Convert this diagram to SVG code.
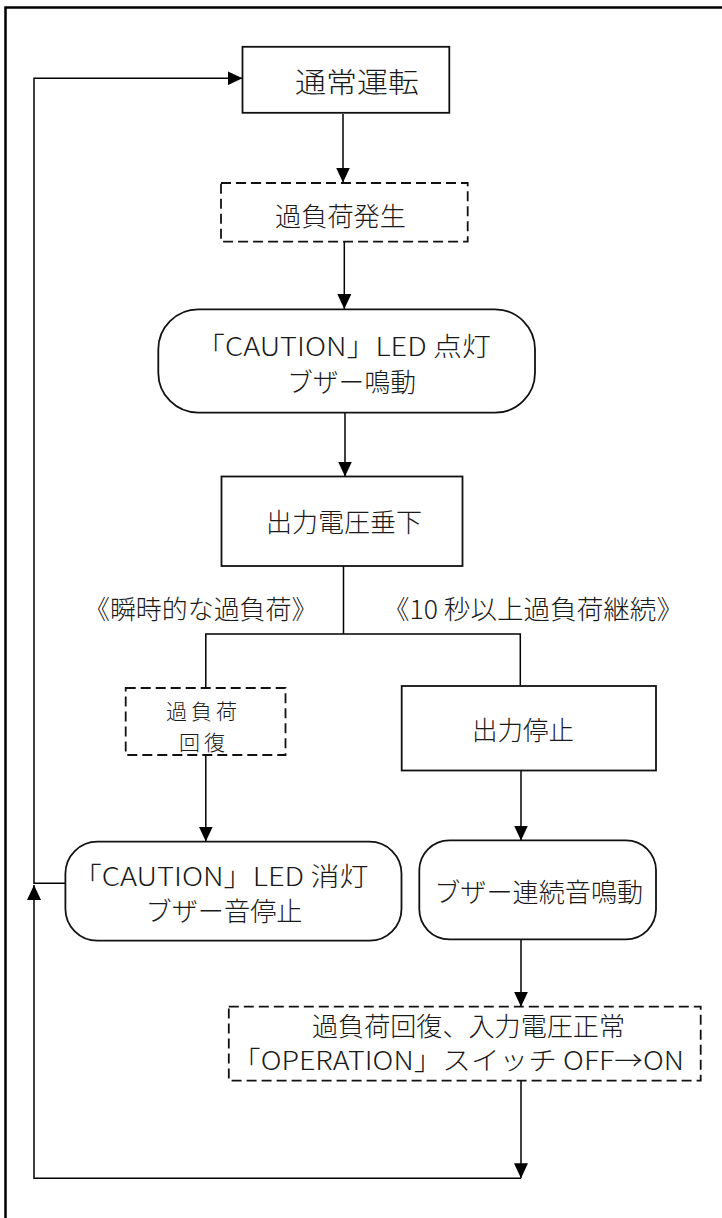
<svg xmlns="http://www.w3.org/2000/svg" width="722" height="1218" viewBox="0 0 722 1218">
<defs>
<marker id="arr" viewBox="0 0 15 14" refX="15" refY="7" markerWidth="15" markerHeight="14" markerUnits="userSpaceOnUse" orient="auto"><path d="M0,0 L15,7 L0,14 z" fill="#000"/></marker>
<style>
.box{fill:#fff;stroke:#111;stroke-width:1.8}
.dash{fill:#fff;stroke:#111;stroke-width:1.8;stroke-dasharray:10 5}
.ln{fill:none;stroke:#000;stroke-width:1.5}
.ar{fill:none;stroke:#000;stroke-width:1.5;marker-end:url(#arr)}
text{font-family:"Noto Sans CJK JP","Liberation Sans",sans-serif;font-size:26px;font-weight:300;fill:#1a1a1a;text-anchor:middle}
.sm{font-size:21px;letter-spacing:4px}
</style>
</defs>
<rect width="722" height="1218" fill="#fff"/>
<path d="M5.5,1220 V7.5 H724" fill="none" stroke="#000" stroke-width="2.5"/>
<g id="connectors">
<path class="ar" d="M343,114 V182.5"/>
<path class="ar" d="M344.3,241.7 V309"/>
<path class="ar" d="M345,412.7 V476.5"/>
<path class="ln" d="M343.5,566 V634 M205.8,688 V634 H520.3 V686"/>
<path class="ar" d="M205.8,755 V841.5"/>
<path class="ar" d="M521,770 V840.5"/>
<path class="ar" d="M521,939.3 V1006.7"/>
<path class="ar" d="M521,1081 V1178.3"/>
<path class="ar" d="M521,1178.3 H34 V885"/>
<path class="ar" d="M65.4,883.3 H34 V78.3 H242.5"/>
</g>
<g id="n1"><rect class="box" x="242.5" y="46.8" width="206.8" height="66"/><text x="357" y="93.3" style="font-size:28px" textLength="124" lengthAdjust="spacingAndGlyphs">通常運転</text></g>
<g id="n2"><rect class="dash" x="221" y="183" width="246.7" height="58.7"/><text x="340.5" y="225.5" textLength="131" lengthAdjust="spacingAndGlyphs">過負荷発生</text></g>
<g id="n3"><rect class="box" x="158.3" y="309.3" width="376.7" height="103.4" rx="40"/><text x="343.5" y="356" textLength="295" lengthAdjust="spacingAndGlyphs">「CAUTION」LED 点灯</text><text x="351.5" y="391.5" textLength="129" lengthAdjust="spacingAndGlyphs">ブザー鳴動</text></g>
<g id="n4"><rect class="box" x="221.5" y="476.5" width="241" height="89.5"/><text x="344" y="532" textLength="156" lengthAdjust="spacingAndGlyphs">出力電圧垂下</text></g>
<g id="l1"><text x="200.7" y="619" textLength="233.5" lengthAdjust="spacingAndGlyphs">《瞬時的な過負荷》</text></g>
<g id="l2"><text x="533" y="619" textLength="300" lengthAdjust="spacingAndGlyphs">《10 秒以上過負荷継続》</text></g>
<g id="n5"><rect class="dash" x="125.7" y="688" width="159.8" height="67"/><text class="sm"><tspan x="203.4" y="718.5">過負荷</tspan><tspan x="204" y="749.5">回復</tspan></text></g>
<g id="n6"><rect class="box" x="401.7" y="686" width="254.3" height="84.5"/><text x="523" y="740" textLength="102" lengthAdjust="spacingAndGlyphs">出力停止</text></g>
<g id="n7"><rect class="box" x="65.4" y="841.7" width="336.1" height="99" rx="32"/><text x="220.7" y="886" textLength="296" lengthAdjust="spacingAndGlyphs">「CAUTION」LED 消灯</text><text x="224" y="921" textLength="157" lengthAdjust="spacingAndGlyphs">ブザー音停止</text></g>
<g id="n8"><rect class="box" x="419.3" y="840.3" width="236.7" height="99" rx="30"/><text x="538.7" y="902" textLength="209" lengthAdjust="spacingAndGlyphs">ブザー連続音鳴動</text></g>
<g id="n9"><rect class="dash" x="228.8" y="1006.7" width="471.9" height="74"/><text x="468.5" y="1036" textLength="313" lengthAdjust="spacingAndGlyphs">過負荷回復、入力電圧正常</text><text x="458" y="1070" textLength="452" lengthAdjust="spacingAndGlyphs">「OPERATION」スイッチ OFF→ON</text></g>
</svg>
